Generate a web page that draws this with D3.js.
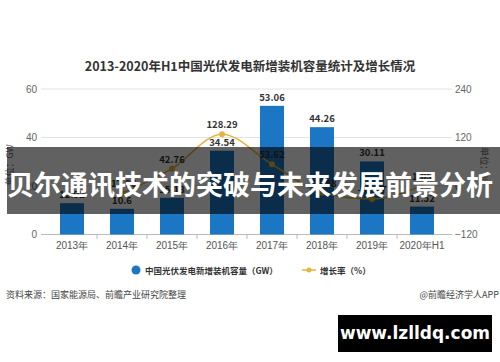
<!DOCTYPE html>
<html>
<head>
<meta charset="utf-8">
<script src="https://cdn.jsdelivr.net/npm/d3@7"></script>
<style>
  body { margin: 0; background: #fff; }
  svg { display: block; font-family: "Noto Sans CJK SC", "Noto Sans", sans-serif; }
</style>
</head>
<body>
<div id="chart"></div>
<script>
// data
const years = ["2013年", "2014年", "2015年", "2016年", "2017年", "2018年", "2019年", "2020年H1"];
const capacity = [12.92, 10.6, 15.13, 34.54, 53.06, 44.26, 30.11, 11.52];
const growth = [null, -17.96, 42.76, 128.29, 53.62, -16.58, -31.97, 1.05];
const leftTicks = [0, 20, 40, 60];
const rightTicks = [-120, 0, 120, 240];

const W = 500, H = 362;
const blue = "#1b77c4", gold = "#e6b53c";

const svg = d3.select("#chart").append("svg")
    .attr("width", W)
    .attr("height", H);

const x = d3.scaleBand().domain(years).range([47, 447]);
const yL = d3.scaleLinear().domain([0, 60]).range([234.5, 89]);
const yR = d3.scaleLinear().domain([-120, 240]).range([234.5, 89]);

// title
svg.append("text")
    .attr("x", 250).attr("y", 71)
    .attr("text-anchor", "middle")
    .attr("font-size", 12.5).attr("font-weight", "bold")
    .attr("fill", "#333")
    .text("2013-2020年H1中国光伏发电新增装机容量统计及增长情况");

// gridlines
svg.append("g").selectAll("line")
    .data(leftTicks.slice(1))
    .enter().append("line")
    .attr("x1", 41).attr("x2", 452)
    .attr("y1", d => yL(d)).attr("y2", d => yL(d))
    .attr("stroke", "#e3e3e3").attr("stroke-width", 1);

// left axis
const gl = svg.append("g")
    .attr("transform", "translate(41,0)")
    .call(d3.axisLeft(yL).tickValues(leftTicks).tickSize(0).tickPadding(4));
gl.select(".domain").remove();
gl.selectAll("text").attr("fill", "#666").attr("font-size", 10);

// right axis
const gr = svg.append("g")
    .attr("transform", "translate(452,0)")
    .call(d3.axisRight(yR).tickValues(rightTicks).tickSize(0).tickPadding(3));
gr.select(".domain").remove();
gr.selectAll("text").attr("fill", "#666").attr("font-size", 10);

// x axis
const gx = svg.append("g")
    .attr("transform", "translate(0,234.5)")
    .call(d3.axisBottom(x).tickSize(0).tickPadding(7));
gx.select(".domain").attr("stroke", "#bbb").attr("d", "M41,0H452");
gx.selectAll("text").attr("fill", "#555").attr("font-size", 10);
svg.append("g").selectAll("line")
    .data(years.slice(1))
    .enter().append("line")
    .attr("x1", d => x(d)).attr("x2", d => x(d))
    .attr("y1", 234.5).attr("y2", 239)
    .attr("stroke", "#bbb");

// axis titles
svg.append("text")
    .attr("transform", "translate(13,165) rotate(-90)")
    .attr("text-anchor", "middle")
    .attr("font-size", 9).attr("fill", "#666")
    .text("单位：GW");
svg.append("text")
    .attr("transform", "translate(481,165) rotate(90)")
    .attr("text-anchor", "middle")
    .attr("font-size", 9).attr("fill", "#666")
    .text("单位：%");

// bars
const bw = 24;
svg.append("g").selectAll("rect")
    .data(capacity)
    .enter().append("rect")
    .attr("x", (d, i) => x(years[i]) + x.bandwidth() / 2 - bw / 2)
    .attr("y", d => yL(d))
    .attr("width", bw)
    .attr("height", d => yL(0) - yL(d))
    .attr("fill", blue);

svg.append("g").selectAll("text")
    .data(capacity)
    .enter().append("text")
    .attr("x", (d, i) => x(years[i]) + x.bandwidth() / 2)
    .attr("y", d => yL(d) - 5)
    .attr("text-anchor", "middle")
    .attr("font-size", 9.5).attr("font-weight", "bold")
    .attr("fill", "#333")
    .text(d => d);

// growth line
const pts = growth.map((g, i) => ({ year: years[i], g: g })).filter(d => d.g !== null);
const line = d3.line()
    .x(d => x(d.year) + x.bandwidth() / 2)
    .y(d => yR(d.g))
    .curve(d3.curveMonotoneX);

svg.append("path")
    .datum(pts)
    .attr("d", line)
    .attr("fill", "none")
    .attr("stroke", gold)
    .attr("stroke-width", 1.5);

svg.append("g").selectAll("circle")
    .data(pts)
    .enter().append("circle")
    .attr("cx", d => x(d.year) + x.bandwidth() / 2)
    .attr("cy", d => yR(d.g))
    .attr("r", 3)
    .attr("fill", gold);

svg.append("g").selectAll("text")
    .data(pts)
    .enter().append("text")
    .attr("x", d => x(d.year) + x.bandwidth() / 2)
    .attr("y", d => yR(d.g) - 6)
    .attr("text-anchor", "middle")
    .attr("font-size", 9.5).attr("font-weight", "bold")
    .attr("fill", "#333")
    .text(d => d.g);

// legend
svg.append("circle")
    .attr("cx", 136).attr("cy", 270).attr("r", 4.5)
    .attr("fill", blue);
svg.append("text")
    .attr("x", 145).attr("y", 273.5)
    .attr("font-size", 8.5).attr("font-weight", "bold").attr("fill", "#333")
    .text("中国光伏发电新增装机容量（GW）");
svg.append("line")
    .attr("x1", 302).attr("x2", 316).attr("y1", 270).attr("y2", 270)
    .attr("stroke", gold).attr("stroke-width", 1.5);
svg.append("circle")
    .attr("cx", 309).attr("cy", 270).attr("r", 2.5)
    .attr("fill", gold);
svg.append("text")
    .attr("x", 320).attr("y", 273.5)
    .attr("font-size", 8.5).attr("font-weight", "bold").attr("fill", "#333")
    .text("增长率（%）");

// source lines
svg.append("text")
    .attr("x", 6).attr("y", 298)
    .attr("font-size", 9).attr("fill", "#444")
    .text("资料来源：国家能源局、前瞻产业研究院整理");
svg.append("text")
    .attr("x", 499).attr("y", 298)
    .attr("text-anchor", "end")
    .attr("font-size", 9).attr("fill", "#444")
    .text("@前瞻经济学人APP");

// overlay banner
svg.append("rect")
    .attr("x", 7).attr("y", 147)
    .attr("width", W - 7).attr("height", 67)
    .attr("fill", "#000").attr("fill-opacity", 0.62);
svg.append("text")
    .attr("x", 7).attr("y", 195)
    .attr("font-size", 27).attr("font-weight", "bold")
    .attr("fill", "#fff")
    .text("贝尔通讯技术的突破与未来发展前景分析");

// site box
svg.append("rect")
    .attr("x", 338).attr("y", 315)
    .attr("width", 154).attr("height", 37)
    .attr("fill", "#000");
svg.append("text")
    .attr("x", 415).attr("y", 339)
    .attr("text-anchor", "middle")
    .attr("font-size", 17).attr("font-weight", "bold")
    .attr("fill", "#fff")
    .attr("font-family", "'DejaVu Sans', sans-serif")
    .text("www.lzlldq.com");
</script>
</body>
</html>
